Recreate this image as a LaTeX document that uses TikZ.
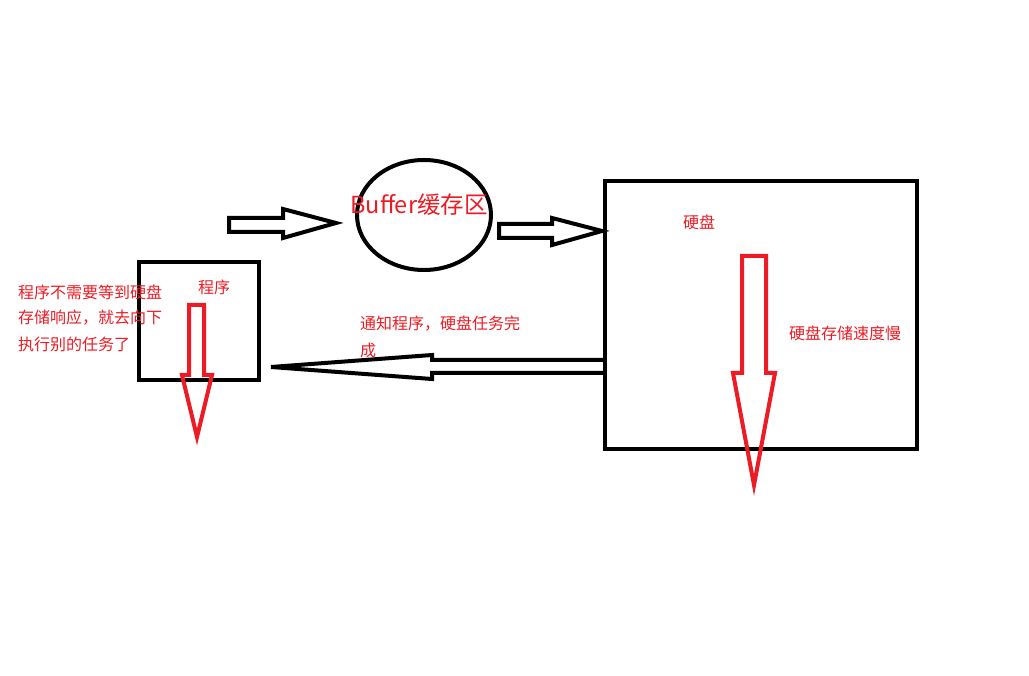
\documentclass[tikz,border=0pt]{standalone}
\usepackage{fontspec}
\usetikzlibrary{shapes.geometric}
\setmainfont{Noto Sans CJK SC}
\definecolor{pred}{HTML}{ED1C24}
\begin{document}
\begin{tikzpicture}[x=1pt,y=-1pt,
  blk/.style={draw=black,line width=4pt,line join=miter},
  redarrow/.style={draw=pred,line width=4pt,line join=miter},
  lbl/.style={text=pred,inner sep=0pt,font=\fontsize{16pt}{18pt}\selectfont}]
\useasboundingbox[fill=white] (0,0) rectangle (1029,676);
% shapes
\node[blk,ellipse,minimum width=134pt,minimum height=110pt,inner sep=0pt] (buf) at (424,215) {};
\node[blk,rectangle,minimum width=120pt,minimum height=118pt,inner sep=0pt] (prog) at (199,321) {};
\node[blk,rectangle,minimum width=312pt,minimum height=268pt,inner sep=0pt] (disk) at (761,315) {};
% hollow black arrows
\draw[blk] (229,218) -- (283,218) -- (283,209) -- (336,223) -- (283,238) -- (283,232) -- (229,232) -- cycle;
\draw[blk] (499,224) -- (552,224) -- (552,218) -- (602,231) -- (552,245) -- (552,238) -- (499,238) -- cycle;
\draw[blk] (603,360) -- (432,360) -- (432,355) -- (271,367) -- (432,379) -- (432,373) -- (603,373);
% red hollow arrows
\draw[redarrow] (189,305) -- (204,305) -- (204,375) -- (212,375) -- (197,437) -- (182,375) -- (189,375) -- cycle;
\draw[redarrow] (742,256) -- (766,256) -- (766,373) -- (775,373) -- (754,485) -- (733,373) -- (742,373) -- cycle;
% texts
\node[text=pred,inner sep=0pt,font=\fontsize{23.5pt}{26pt}\selectfont] (buftext) at (419,205) {Buffer缓存区};
\node[lbl] (progtext) at (214,287) {程序};
\node[lbl] (disktext) at (699,222) {硬盘};
\node[lbl,anchor=west] (slow) at (789,333) {硬盘存储速度慢};
\node[lbl,anchor=west] (l1) at (18,292) {程序不需要等到硬盘};
\node[lbl,anchor=west] (l2) at (18,318) {存储响应，就去向下};
\node[lbl,anchor=west] (l3) at (18,344) {执行别的任务了};
\node[lbl,anchor=west] (n1) at (360,324) {通知程序，硬盘任务完};
\node[lbl,anchor=west] (n2) at (360,350) {成};
\end{tikzpicture}
\end{document}
